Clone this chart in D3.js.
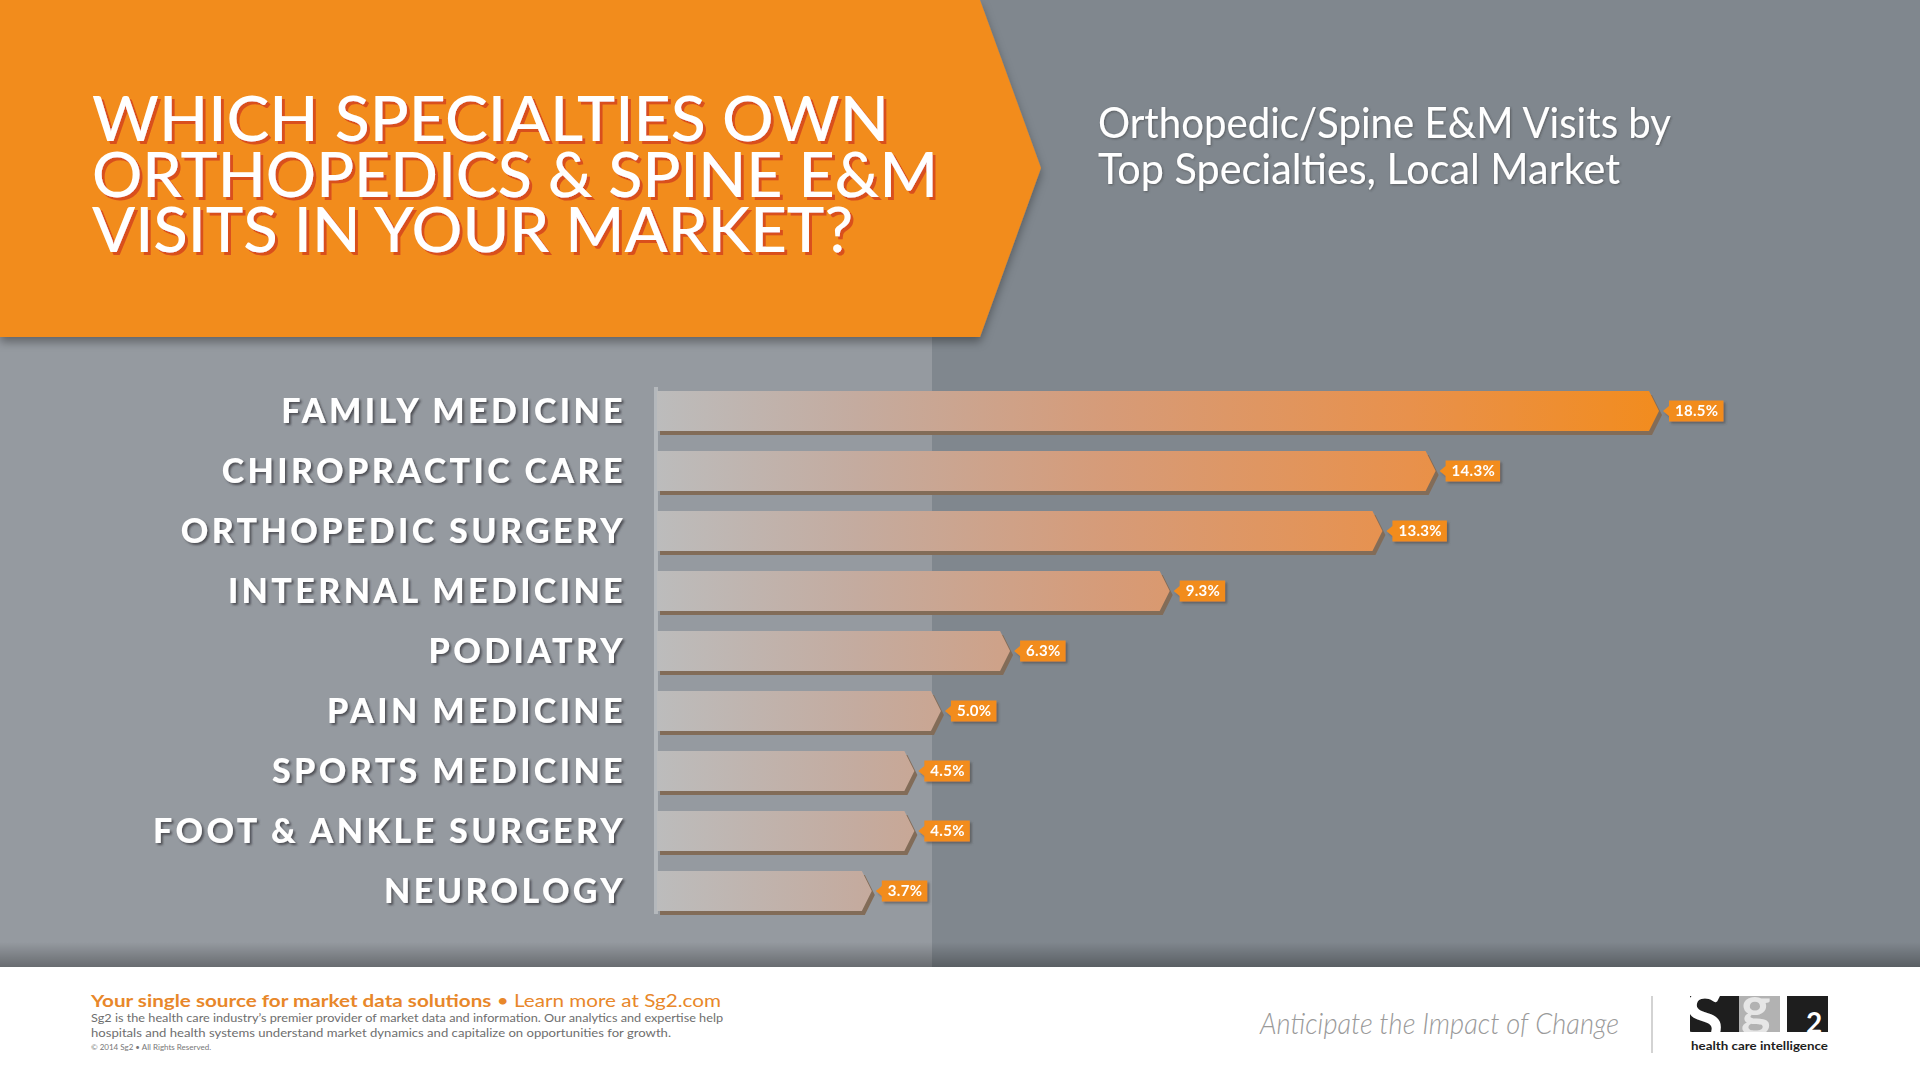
<!DOCTYPE html>
<html lang="en">
<head>
<meta charset="utf-8">
<title>Orthopedic/Spine E&amp;M Visits by Top Specialties</title>
<script src="https://cdn.jsdelivr.net/npm/d3@7/dist/d3.min.js"></script>
<style>
body{margin:0;background:#fff;overflow:hidden}
svg{display:block}
text{font-family:Lato, "Open Sans", sans-serif}
</style>
</head>
<body>
<div id="main"></div>
<script>

// data
var categories = ["FAMILY MEDICINE","CHIROPRACTIC CARE","ORTHOPEDIC SURGERY","INTERNAL MEDICINE",
  "PODIATRY","PAIN MEDICINE","SPORTS MEDICINE","FOOT & ANKLE SURGERY","NEUROLOGY"]
var values = [18.5,14.3,13.3,9.3,6.3,5.0,4.5,4.5,3.7]

var titleLines = ["WHICH SPECIALTIES OWN","ORTHOPEDICS & SPINE E&M","VISITS IN YOUR MARKET?"]
var subtitleLines = ["Orthopedic/Spine E&M Visits by","Top Specialties, Local Market"]
var footerBody = ["Sg2 is the health care industry\u2019s premier provider of market data and information. Our analytics and expertise help",
  "hospitals and health systems understand market dynamics and capitalize on opportunities for growth."]

var width = 1920, height = 1080
var orange = "#f28c1e"

var svg = d3.select("#main").append("svg").attr("width",width).attr("height",height)
var defs = svg.append("defs")

// bar colour runs grey -> orange across the whole plot, not per bar
var grad = defs.append("linearGradient").attr("id","barGrad")
  .attr("gradientUnits","userSpaceOnUse").attr("x1",657).attr("x2",1659).attr("y1",0).attr("y2",0)
grad.selectAll("stop").data([[0,"#bcbcbc"],[0.2,"#c4ab9f"],[0.45,"#d69b78"],[0.75,"#e8914c"],[1,orange]])
  .enter().append("stop").attr("offset",function(d){return d[0]}).attr("stop-color",function(d){return d[1]})

var fade = defs.append("linearGradient").attr("id","fade").attr("x1",0).attr("x2",0).attr("y1",0).attr("y2",1)
fade.append("stop").attr("offset",0).attr("stop-color","#000").attr("stop-opacity",0)
fade.append("stop").attr("offset",1).attr("stop-color","#000").attr("stop-opacity",0.3)

function shadow(id,dx,dy,blur,color,op){
  defs.append("filter").attr("id",id).attr("x","-10%").attr("y","-30%").attr("width","130%").attr("height","170%")
    .append("feDropShadow").attr("dx",dx).attr("dy",dy).attr("stdDeviation",blur)
    .attr("flood-color",color).attr("flood-opacity",op)
}
shadow("bannerShadow",0,5,5,"#000",0.35)
shadow("titleShadow",3,3,0,"#d9501c",1)
shadow("labelShadow",2,2,1,"#3c3f44",0.8)
shadow("tagShadow",2,2,0.8,"#4a4a4a",0.6)
shadow("subShadow",1,1,1,"#333",0.5)

////////////////////////////////// background //////////////////////////////////
svg.append("rect").attr("width",width).attr("height",height).attr("fill","#80878e")
svg.append("rect").attr("x",0).attr("y",337).attr("width",932).attr("height",630).attr("fill","#959aa0")
svg.append("rect").attr("x",0).attr("y",942).attr("width",width).attr("height",25).attr("fill","url(#fade)")
svg.append("rect").attr("x",0).attr("y",967).attr("width",width).attr("height",113).attr("fill","#fff")

// orange banner
svg.append("path").attr("d","M0,0L980,0L1041,168L980,337L0,337Z")
  .attr("fill",orange).attr("filter","url(#bannerShadow)")

var titleLens = [797,846,761]
svg.selectAll("text.title").data(titleLines).enter().append("text").attr("class","title")
  .attr("x",92).attr("y",function(d,i){return 141+i*55.5})
  .attr("fill","#fff").attr("font-size",62).attr("font-weight",500).attr("filter","url(#titleShadow)")
  .attr("textLength",function(d,i){return titleLens[i]}).attr("lengthAdjust","spacingAndGlyphs")
  .text(function(d){return d})

svg.selectAll("text.sub").data(subtitleLines).enter().append("text").attr("class","sub")
  .attr("x",1098).attr("y",function(d,i){return 138+i*46})
  .attr("fill","#fff").attr("font-size",43).attr("filter","url(#subShadow)")
  .attr("textLength",function(d,i){return i==0?573:522}).attr("lengthAdjust","spacingAndGlyphs")
  .text(function(d){return d})

////////////////////////////////// bars //////////////////////////////////
var x0 = 657
var x = d3.scaleLinear().domain([0,18.5]).range([675,1659])
var y = d3.scaleBand().domain(categories).range([381,921]).paddingInner(1/3).paddingOuter(1/6)
var bh = y.bandwidth(), tip = 10

function barPath(d){
  var top = y(d.cat), xe = x(d.val)
  return "M"+x0+","+top+"L"+(xe-tip)+","+top+"L"+xe+","+(top+bh/2)+"L"+(xe-tip)+","+(top+bh)+"L"+x0+","+(top+bh)+"Z"
}

var rows = categories.map(function(c,i){return {cat:c,val:values[i]}})

// axis stub at the bars' left edge
svg.append("rect").attr("x",x0-3).attr("y",y(categories[0])-4).attr("width",4)
  .attr("height",y(categories[categories.length-1])+bh+3-(y(categories[0])-4)).attr("fill","#b4b8bc")

var bars = svg.selectAll("g.bar").data(rows).enter().append("g").attr("class","bar")

bars.append("path").attr("d",barPath).attr("fill","#826c58").attr("transform","translate(3,4)")
bars.append("path").attr("d",barPath).attr("fill","url(#barGrad)")

bars.append("text").attr("class","cat")
  .attr("x",626).attr("y",function(d){return y(d.cat)+bh/2+12})
  .attr("text-anchor","end").attr("fill","#fff").attr("font-size",34).attr("font-weight",900)
  .attr("letter-spacing",3.4).attr("filter","url(#labelShadow)")
  .text(function(d){return d.cat})

// value tags
var tags = bars.append("g").attr("filter","url(#tagShadow)")
  .attr("transform",function(d){return "translate("+x(d.val)+","+(y(d.cat)+bh/2)+")"})
var tagBox = tags.append("path")
var tagText = tags.append("text").attr("x",11+5).attr("y",5)
  .attr("fill","#fff").attr("font-size",15).attr("font-weight",700).attr("letter-spacing",0.3)
  .text(function(d){return d.val.toFixed(1)+"%"})
tagBox.attr("fill",orange).attr("d",function(d,i){
  var w = tagText.nodes()[i].getComputedTextLength()+11
  return "M4,0L10,-5L10,-10.5L"+(10+w)+",-10.5L"+(10+w)+",10.5L10,10.5L10,5Z"
})

////////////////////////////////// footer //////////////////////////////////
var f1 = svg.append("text").attr("x",91).attr("y",1007).attr("font-size",17).attr("fill","#e8872a")
  .attr("textLength",630).attr("lengthAdjust","spacingAndGlyphs")
f1.append("tspan").attr("font-weight",700).text("Your single source for market data solutions")
f1.append("tspan").text(" \u2022 Learn more at Sg2.com")

svg.selectAll("text.body").data(footerBody).enter().append("text").attr("class","body")
  .attr("x",91).attr("y",function(d,i){return 1022+i*14.5}).attr("font-size",11.5).attr("fill","#6e6e6e")
  .attr("textLength",function(d,i){return i==0?632:580}).attr("lengthAdjust","spacingAndGlyphs")
  .text(function(d){return d})
svg.append("text").attr("x",91).attr("y",1050).attr("font-size",8).attr("fill","#777")
  .text("\u00a9 2014 Sg2 \u2022 All Rights Reserved.")

svg.append("text").attr("x",1260).attr("y",1034).attr("font-size",29).attr("font-style","italic")
  .attr("font-weight",300).attr("fill","#9a9a9a").attr("textLength",359).attr("lengthAdjust","spacingAndGlyphs")
  .text("Anticipate the Impact of Change")
svg.append("line").attr("x1",1652).attr("x2",1652).attr("y1",996).attr("y2",1053)
  .attr("stroke","#c4c4c4").attr("stroke-width",1.5)

// sg2 logo
var logo = svg.append("g")
defs.append("clipPath").attr("id","cS").append("rect").attr("x",1690).attr("y",996).attr("width",49).attr("height",36)
defs.append("clipPath").attr("id","cG").append("rect").attr("x",1739).attr("y",996).attr("width",41).attr("height",36)
logo.append("rect").attr("x",1690).attr("y",996).attr("width",49).attr("height",36).attr("fill","#1e1e1e")
logo.append("rect").attr("x",1739).attr("y",996).attr("width",41).attr("height",36).attr("fill","#b2b2b2")
logo.append("rect").attr("x",1787).attr("y",996).attr("width",41).attr("height",36).attr("fill","#1e1e1e")
logo.append("text").attr("x",1684).attr("y",1044).attr("clip-path","url(#cS)")
  .attr("font-family","DejaVu Serif").attr("font-weight",700).attr("font-size",72).attr("fill","#fff").text("S")
logo.append("text").attr("x",1741).attr("y",1026).attr("clip-path","url(#cG)")
  .attr("font-family","DejaVu Serif").attr("font-weight",700).attr("font-size",56).attr("fill","#e6e6e6").text("g")
logo.append("text").attr("x",1806).attr("y",1033).attr("font-family","DejaVu Serif").attr("font-weight",700)
  .attr("font-size",28).attr("fill","#fff").text("2")
logo.append("text").attr("x",1691).attr("y",1050).attr("font-family","DejaVu Sans").attr("font-weight",700)
  .attr("font-size",10.5).attr("fill","#1e1e1e").attr("textLength",137).attr("lengthAdjust","spacingAndGlyphs")
  .text("health care intelligence")

</script>
</body>
</html>
